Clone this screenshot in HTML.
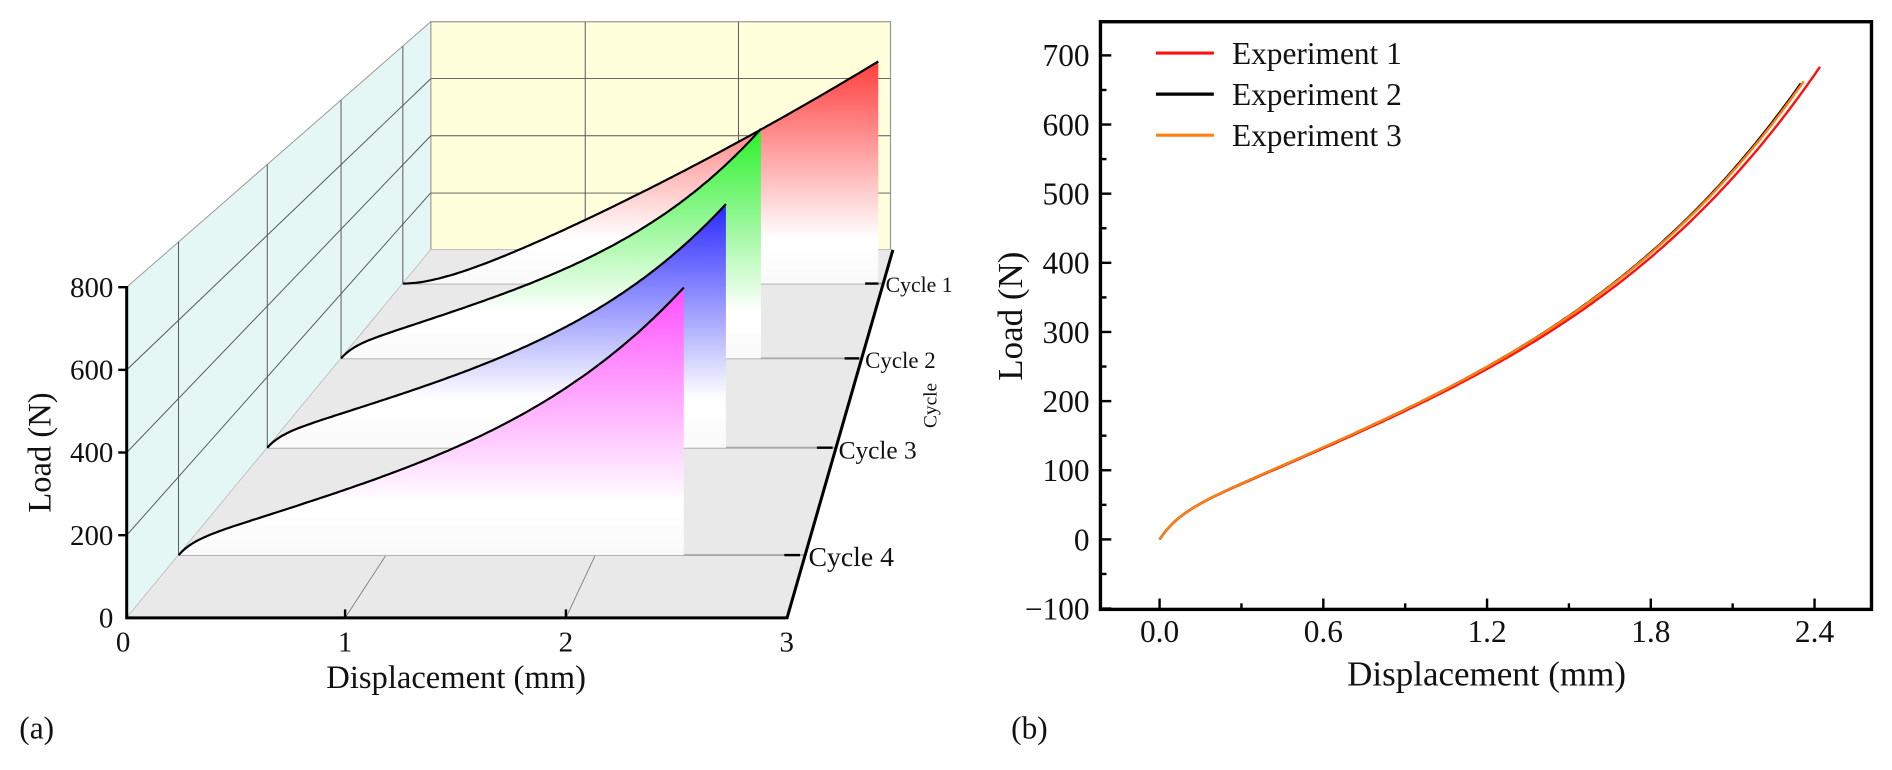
<!DOCTYPE html>
<html><head><meta charset="utf-8"><style>
html,body{margin:0;padding:0;background:#fff;width:1892px;height:770px;overflow:hidden}
svg{display:block}
text{font-family:"Liberation Serif",serif;fill:#111}
</style></head><body>
<svg id="s" width="1892" height="770" viewBox="0 0 1568 638.1" preserveAspectRatio="none" xmlns="http://www.w3.org/2000/svg">
<defs>
<linearGradient id="g1" gradientUnits="userSpaceOnUse" x1="0" y1="48" x2="0" y2="235"><stop offset="0" stop-color="#ff3a3a"/><stop offset="0.8" stop-color="#fff"/><stop offset="1" stop-color="#fafafa"/></linearGradient>
<linearGradient id="g2" gradientUnits="userSpaceOnUse" x1="0" y1="108" x2="0" y2="297"><stop offset="0" stop-color="#2cf02c"/><stop offset="0.8" stop-color="#fff"/><stop offset="1" stop-color="#fafafa"/></linearGradient>
<linearGradient id="g3" gradientUnits="userSpaceOnUse" x1="0" y1="170" x2="0" y2="371"><stop offset="0" stop-color="#2a2aff"/><stop offset="0.8" stop-color="#fff"/><stop offset="1" stop-color="#fafafa"/></linearGradient>
<linearGradient id="g4" gradientUnits="userSpaceOnUse" x1="0" y1="240" x2="0" y2="460"><stop offset="0" stop-color="#ff50ff"/><stop offset="0.8" stop-color="#fff"/><stop offset="1" stop-color="#fafafa"/></linearGradient>
</defs>
<rect x="357" y="18" width="381" height="189" fill="#ffffdc" stroke="#999" stroke-width="1"/>
<g stroke="#555" stroke-width="0.8">
<line x1="485" y1="18" x2="485" y2="207"/><line x1="612" y1="18" x2="612" y2="207"/>
<line x1="357" y1="65" x2="738" y2="65"/><line x1="357" y1="112.5" x2="738" y2="112.5"/><line x1="357" y1="160" x2="738" y2="160"/>
</g>
<polygon points="105,238 357,18 357,207 105,512" fill="#e5f7f5" stroke="#999" stroke-width="0.8"/>
<polygon points="105,512 357,207 740,207 652,512" fill="#e9e9e9"/>
<g stroke="#777" stroke-width="0.7">
<line x1="286" y1="512" x2="485" y2="207"/><line x1="469" y1="512" x2="612" y2="207"/>
</g>
<g id="dyn"></g>
<g stroke="#000" stroke-width="2.5" fill="none">
<line x1="105" y1="237" x2="105" y2="513"/>
<line x1="104" y1="512" x2="652" y2="512"/>
<line x1="652" y1="513" x2="740" y2="207"/>
</g>
<g stroke="#000" stroke-width="2">
<line x1="98" y1="238" x2="105" y2="238"/><line x1="98" y1="306.5" x2="105" y2="306.5"/><line x1="98" y1="375" x2="105" y2="375"/><line x1="98" y1="443.5" x2="105" y2="443.5"/>
<line x1="286" y1="512" x2="286" y2="505"/><line x1="469" y1="512" x2="469" y2="505"/>
<line x1="717" y1="235" x2="728" y2="235"/><line x1="700" y1="297" x2="712" y2="297"/><line x1="677" y1="371" x2="690" y2="371"/><line x1="650" y1="460" x2="663" y2="460"/>
</g>
<g font-size="24" text-anchor="end">
<text x="94" y="246">800</text><text x="94" y="314.5">600</text><text x="94" y="383">400</text><text x="94" y="451.5">200</text><text x="94" y="520">0</text>
</g>
<g font-size="24" text-anchor="middle">
<text x="102" y="540">0</text><text x="286" y="540">1</text><text x="469" y="540">2</text><text x="652" y="540">3</text>
</g>
<text x="378" y="570" font-size="27" text-anchor="middle">Displacement (mm)</text>
<text transform="translate(42,375) rotate(-90)" font-size="27" text-anchor="middle">Load (N)</text>
<text x="734" y="242" font-size="18">Cycle 1</text>
<text x="717" y="305" font-size="19">Cycle 2</text>
<text x="695" y="380" font-size="21">Cycle 3</text>
<text x="670" y="469" font-size="23">Cycle 4</text>
<text transform="translate(776,336) rotate(-90)" font-size="16" text-anchor="middle">Cycle</text>
<text x="16" y="612" font-size="26">(a)</text>
<rect x="912" y="18" width="639" height="487" fill="none" stroke="#000" stroke-width="2.8"/>
<g id="rt" stroke="#000" stroke-width="2"></g>
<g font-size="26" text-anchor="end" id="ryl"></g>
<g font-size="26" text-anchor="middle" id="rxl"></g>
<text x="1232" y="568" font-size="29" text-anchor="middle">Displacement (mm)</text>
<text transform="translate(847,262) rotate(-90)" font-size="29" text-anchor="middle">Load (N)</text>
<text x="838" y="612" font-size="26">(b)</text>
<g stroke-width="2.6"><line x1="958" y1="44" x2="1006" y2="44" stroke="#ff1010"/><line x1="958" y1="78" x2="1006" y2="78" stroke="#000"/><line x1="958" y1="112" x2="1006" y2="112" stroke="#ff7f10"/></g>
<g font-size="26"><text x="1021" y="53">Experiment 1</text><text x="1021" y="87">Experiment 2</text><text x="1021" y="121">Experiment 3</text></g>
<g id="rc" fill="none" stroke-width="2"></g>
</svg>
<script>
var NS="http://www.w3.org/2000/svg";
function el(p,t,a){var e=document.createElementNS(NS,t);for(var k in a)e.setAttribute(k,a[k]);p.appendChild(e);return e;}
function F(a,b){return function(d){return 30*(1-Math.exp(-d/0.07))+a*d+b*Math.pow(d,4);};}
var E1=F(168,7.2),E2=F(170,7.54),E3=F(170,7.45);
var C1=function(d){var u=d-0.25*(1-Math.exp(-d/0.25));return 223.5*u+19*u*u;};
function samp(f,dmax,n){var o=[];for(var i=0;i<=n;i++){var d=dmax*i/n;o.push([d,f(d)]);}return o;}
function P(d,L,yb){var t=(512-yb)/305,x0=105+(512-yb)*252/305,w=547-164*t,sy=(68.5-21.25*t)/200;return [x0+d/3*w,yb-L*sy];}
var dyn=document.getElementById('dyn');
var cyc=[[235,C1,2.97,1,'g1'],[297,E1,2.42,1.04,'g2'],[371,E1,2.42,1.007,'g3'],[460,E1,2.42,1.0,'g4']];
cyc.forEach(function(c){var yb=c[0],x0=105+(512-yb)*252/305,xr=652+(512-yb)*88/305;el(dyn,'line',{x1:x0,y1:yb,x2:xr,y2:yb,stroke:'#a8a8a8','stroke-width':1.5});});
var lw=el(dyn,'g',{stroke:'#555','stroke-width':0.8});
[1,2,3].forEach(function(k){el(lw,'line',{x1:105,y1:512-68.5*k,x2:357,y2:207-47.25*k});});
cyc.forEach(function(c){var x=105+(512-c[0])*252/305;el(lw,'line',{x1:x,y1:238-(x-105)*220/252,x2:x,y2:c[0]});});
cyc.forEach(function(c){var yb=c[0],s=samp(c[1],c[2],150).map(function(p){return P(p[0],p[1]*c[3],yb);});
var last=s[s.length-1];var d='M'+s.map(function(p){return p[0].toFixed(1)+','+p[1].toFixed(1);}).join('L');
el(dyn,'path',{d:d+'L'+last[0].toFixed(1)+','+yb+'L'+s[0][0].toFixed(1)+','+yb+'Z',fill:'url(#'+c[4]+')'});
el(dyn,'path',{d:d,fill:'none',stroke:'#000','stroke-width':1.8});});
var rt=document.getElementById('rt'),ryl=document.getElementById('ryl'),rxl=document.getElementById('rxl');
function X(d){return 961+d/0.6*135.7;}function Y(L){return 447-L*0.573;}
for(var L=-100;L<=750;L+=50){var y=Y(L);if(y<20)continue;var maj=(L%100===0);el(rt,'line',{x1:912,y1:y,x2:912+(maj?9:5),y2:y});if(maj){var t=el(ryl,'text',{x:903,y:y+9});t.textContent=(L<0?'\u2212100':L);}}
for(var i=0;i<=9;i++){var d=i*0.3,x=X(d);if(x>1549)continue;var maj=(i%2===0);el(rt,'line',{x1:x,y1:505,x2:x,y2:505-(maj?9:5)});if(maj){var t=el(rxl,'text',{x:x,y:532});t.textContent=d.toFixed(1);}}
var rc=document.getElementById('rc');
[[E1,2.42,'#ff1010'],[E2,2.35,'#000'],[E3,2.36,'#ff7f10']].forEach(function(c){var s=samp(c[0],c[1],200);el(rc,'path',{d:'M'+s.map(function(p){return X(p[0]).toFixed(1)+','+Y(p[1]).toFixed(1);}).join('L'),stroke:c[2]});});
</script>
</body></html>
